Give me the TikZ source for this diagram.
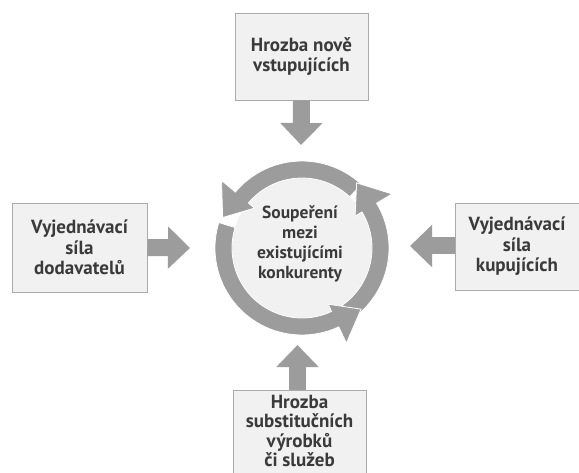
\documentclass[tikz,border=0pt]{standalone}
\usepackage{fontspec}
\setmainfont{PT Sans}
\usetikzlibrary{arrows.meta,calc}
\definecolor{ringgray}{HTML}{9C9C9C}
\definecolor{boxfill}{HTML}{F1F1F1}
\definecolor{boxline}{HTML}{ABABAB}
\definecolor{txt}{HTML}{3A3A3A}
\tikzset{
  boxtext/.style={align=center, font=\fontsize{19}{20.5}\selectfont\bfseries, text=txt, inner sep=0pt},
  forcebox/.style={boxtext, draw=boxline, line width=0.9pt, fill=boxfill},
  centertext/.style={align=center, font=\fontsize{17.5}{20}\selectfont\bfseries, text=txt, inner sep=0pt},
  blockarrow/.style={draw=ringgray, line width=17pt,
    -{Triangle[width=41pt,length=22pt]}},
  ringseg/.style={fill=ringgray, draw=white, line width=0.8pt, line join=miter},
}
\newcommand\ringarrow[3]{% start angle, back-of-head angle, tip angle
  \filldraw[ringseg] (#1:87) arc[start angle=#1, end angle=#2, radius=87]
    -- (#2:105) -- (#3:85) -- (#2:62) -- (#2:70)
    arc[start angle=#2, end angle=#1, radius=70] -- cycle;}
\begin{document}
\begin{tikzpicture}[x=1pt,y=1pt]
\clip (0,0) rectangle (579,472);
\fill[white] (0,0) rectangle (579,472);
% boxes
\node[forcebox, minimum width=133, minimum height=87] (top) at (301.5,415.5)
  {Hrozba nově\\vstupujících};
\node[forcebox, minimum width=135, minimum height=89] (left) at (79.5,224.5)
  {Vyjednávací\\síla\\dodavatelů};
\node[forcebox, minimum width=124, minimum height=87] (right) at (517,225.5)
  {Vyjednávací\\síla\\kupujících};
\node[forcebox, minimum width=133, minimum height=100, anchor=north] (bottom) at (299.5,82)
  {};
\node[boxtext, font=\fontsize{19}{19.2}\selectfont\bfseries] (bottomtext) at (299.5,41)
  {Hrozba\\substitučních\\výrobků\\či služeb};
% ring
\coordinate (c) at (302,224);
\begin{scope}[shift={(c)}]
  \fill[boxfill] (0,0) circle (70);
  \ringarrow{47}{140}{159}
  \ringarrow{-55}{31}{50}
  \ringarrow{163}{295}{314}
  \node[centertext] (center) at (-2,4) {Soupeření\\mezi\\existujícími\\konkurenty};
\end{scope}
% arrows
\coordinate (tipT) at (301,327);
\coordinate (tipL) at (190,224);
\coordinate (tipR) at (410,226);
\coordinate (tipB) at (297.5,127);
\draw[blockarrow] (top.south) -- (tipT);
\draw[blockarrow] (left.east) -- (tipL);
\draw[blockarrow] (right.west |- tipR) -- (tipR);
\draw[blockarrow] (bottom.north -| tipB) -- (tipB);
\end{tikzpicture}
\end{document}
